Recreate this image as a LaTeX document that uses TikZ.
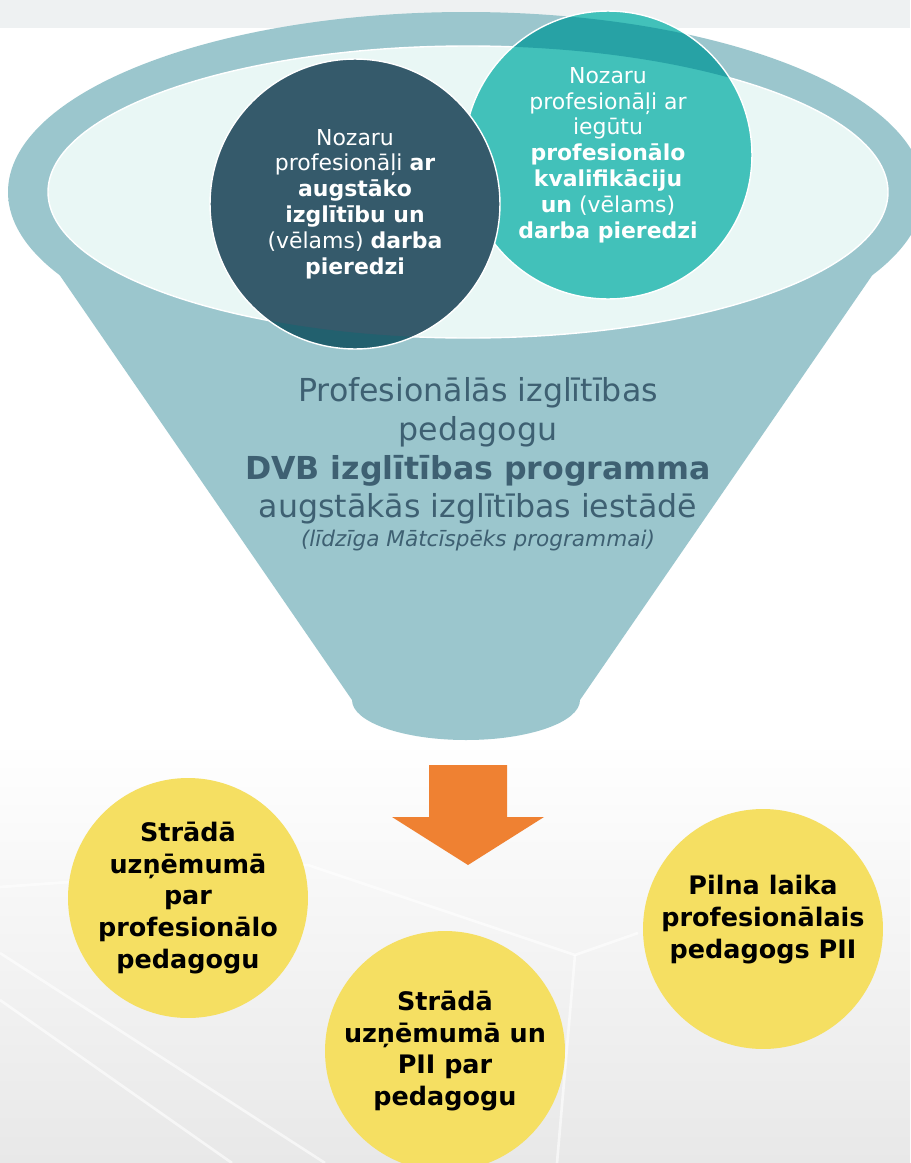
\documentclass[tikz,border=0pt]{standalone}
\usepackage{fontspec}
\setmainfont{DejaVu Sans}
\usetikzlibrary{positioning}

\definecolor{funnelteal}{HTML}{9BC6CD}
\definecolor{mouthmint}{HTML}{E9F7F5}
\definecolor{slatedisc}{HTML}{355A6B}
\definecolor{slaterim}{HTML}{22606E}
\definecolor{aquadisc}{HTML}{42C1BA}
\definecolor{aquarim}{HTML}{27A2A5}
\definecolor{funneltext}{HTML}{3E6072}
\definecolor{arroworange}{HTML}{EF8132}
\definecolor{sunyellow}{HTML}{F5DF62}
\definecolor{topstrip}{HTML}{EEF1F2}

\tikzset{
  disc/.style={circle, draw=white, line width=0.8pt, inner sep=0pt,
    text=white, align=center, font=\fontsize{12.5}{14.7}\selectfont},
  outrim/.style={path picture={
    \fill[#1, even odd rule] (rimcentre) ellipse (458 and 180) (mouth) ellipse (420 and 146);}},
  outcome/.style={circle, fill=sunyellow, minimum size=4.8cm, inner sep=0pt,
    align=center, font=\bfseries\fontsize{14.5}{18}\selectfont},
  glassline/.style={white, line width=1.5pt, opacity=0.6}
}

\begin{document}
\begin{tikzpicture}[x=0.02cm,y=-0.02cm]
		%Background
			\useasboundingbox (0,0) rectangle (910,1163);
			\fill[white] (0,0) rectangle (910,1163);
			\fill[topstrip] (0,0) rectangle (910,28);
			\shade[top color=white, bottom color=black!9] (0,740) rectangle (910,1163);
			\draw[glassline] (0,887) -- (308,865) -- (575,955) -- (638,933);
			\draw[glassline] (575,955) -- (557,1163);
			\draw[glassline] (0,953) -- (325,1163);
			\draw[glassline] (0,1000) -- (232,1163);
		%Funnel
			\coordinate (rimcentre) at (466,192);
			\coordinate (mouth) at (468,192);
			\fill[funnelteal] (rimcentre) ellipse (458 and 180);
			\fill[funnelteal] (8,200) -- (352,700)
				arc[start angle=180, end angle=0, x radius=114, y radius=40] -- (924,200) -- cycle;
			\draw[white, line width=0.8pt, fill=mouthmint] (mouth) ellipse (420 and 146);
		%Inflow circles
			\node[disc, fill=aquadisc, outrim=aquarim, minimum size=5.76cm] (qualified) at (608,155)
				{Nozaru\\profesionāļi ar\\iegūtu\\\textbf{profesionālo}\\\textbf{kvalifikāciju}\\\textbf{un} (vēlams)\\\textbf{darba pieredzi}};
			\node[disc, fill=slatedisc, outrim=slaterim, minimum size=5.8cm] (higheredu) at (355,204)
				{Nozaru\\profesionāļi \textbf{ar}\\\textbf{augstāko}\\\textbf{izglītību un}\\(vēlams) \textbf{darba}\\\textbf{pieredzi}};
		%Programme text
			\node[text=funneltext, align=center, font=\fontsize{18}{22}\selectfont] (programme) at (478,451)
				{Profesionālās izglītības\\pedagogu\\\textbf{DVB izglītības programma}\\augstākās izglītības iestādē};
			\node[text=funneltext, font=\itshape\fontsize{12.3}{14}\selectfont, below=-4pt of programme] (similar)
				{(līdzīga Mātcīspēks programmai)};
		%Arrow
			\fill[arroworange] (429,765) -- (507,765) -- (507,817) -- (544,817) -- (468,865)
				-- (392,817) -- (429,817) -- cycle;
		%Outcomes
			\node[outcome] (company) at (188,898) {Strādā\\uzņēmumā\\par\\profesionālo\\pedagogu};
			\node[outcome] (both) at (445,1051) {Strādā\\uzņēmumā un\\PII par\\pedagogu};
			\node[outcome, text depth=14pt] (fulltime) at (763,929) {Pilna laika\\profesionālais\\pedagogs PII};
	\end{tikzpicture}
\end{document}
